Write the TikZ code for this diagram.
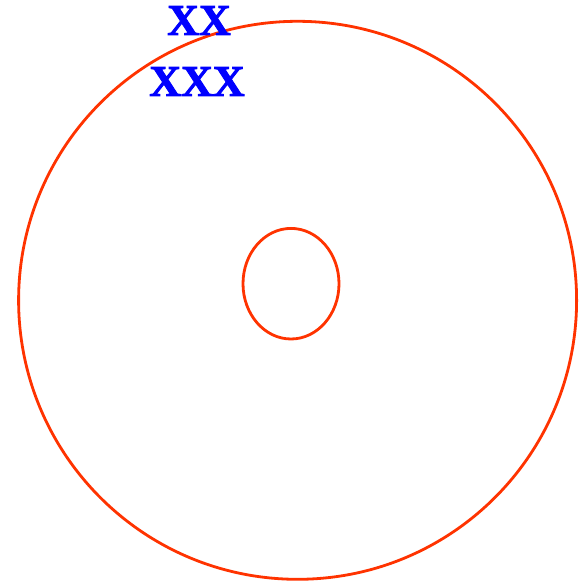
\documentclass[tikz,border=0pt]{standalone}
\usepackage{fontspec}
\setmainfont{Liberation Serif}
\newfontfamily\heavyserif{Liberation Serif}[BoldFeatures={FakeBold=2}]
\definecolor{ringred}{HTML}{FF3300}
\definecolor{txtblue}{HTML}{0000FF}
\begin{document}
\begin{tikzpicture}[x=1pt,y=-1pt,
  ring/.style={draw=ringred,line width=2.8pt},
  lbl/.style={text=txtblue,font=\heavyserif\fontsize{44}{44}\selectfont\bfseries,inner sep=0pt,anchor=base}]
\useasboundingbox (0,0) rectangle (580,583);
\coordinate (outer) at (297.6,300.3);
\coordinate (inner) at (291,283.7);
\draw[ring] (outer) circle [radius=279];
\draw[ring] (inner) ellipse [x radius=48, y radius=55.3];
\node[lbl] (xx) at (199,35) {XX};
\node[lbl] (xxx) at (197,96) {XXX};
\end{tikzpicture}
\end{document}
